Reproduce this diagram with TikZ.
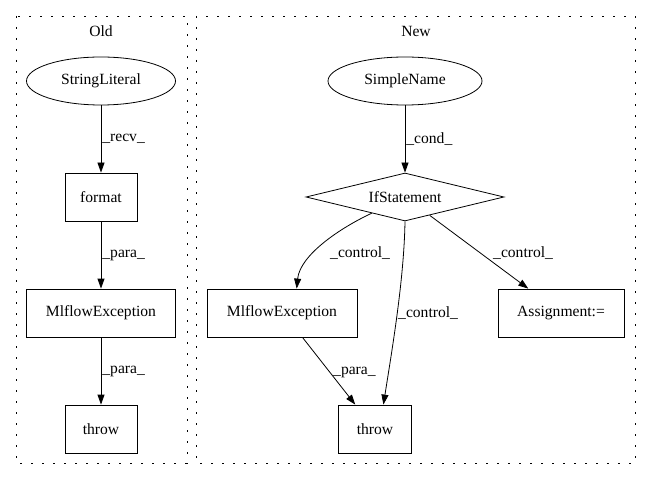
\documentclass[tikz,border=0pt]{standalone}
\usepackage{fontspec}
\setmainfont{Liberation Serif}
\usetikzlibrary{shapes.geometric,arrows.meta}

\tikzset{
  cluster/.style={draw, dash pattern=on 2bp off 9bp, line width=0.8bp},
  box/.style={draw, rectangle, inner sep=0pt, minimum height=48bp, line width=0.8bp},
  oval/.style={draw, ellipse, inner sep=0pt, minimum height=48bp, line width=0.8bp},
  cond/.style={draw, diamond, aspect=4.125, inner sep=0pt, minimum width=198bp, minimum height=48bp, line width=0.8bp},
  flow/.style={-{Triangle[length=10bp,width=7bp]}, line width=0.8bp},
  lbl/.style={inner sep=1bp, anchor=west},
}

\begin{document}
\begin{tikzpicture}[x=1bp, y=-1bp, font=\fontsize{15.6bp}{18bp}\selectfont]
            \useasboundingbox (0,0) rectangle (651,480);

            % Old
            \draw[cluster] (16,16) rectangle (187,463);
            \node (old) at (101,31) {Old};
            \node[oval, minimum width=149bp] (lit) at (101,81) {StringLiteral};
            \node[box, minimum width=72bp] (fmt) at (101,197) {format};
            \node[box, minimum width=149bp] (exc) at (101,313) {MlflowException};
            \node[box, minimum width=72bp] (thr) at (101,429) {throw};
            \draw[flow] (lit) -- node[lbl] {\_recv\_} (fmt);
            \draw[flow] (fmt) -- node[lbl] {\_para\_} (exc);
            \draw[flow] (exc) -- node[lbl] {\_para\_} (thr);

            % New
            \draw[cluster] (196,16) rectangle (635,463);
            \node (new) at (416,31) {New};
            \node[oval, minimum width=154bp] (sn) at (405,81) {SimpleName};
            \node[cond] (ifs) at (405,197) {IfStatement};
            \node[box, minimum width=150bp] (exc2) at (282,313) {MlflowException};
            \node[box, minimum width=126bp] (asg) at (561,313) {Assignment:=};
            \node[box, minimum width=73bp] (thr2) at (375,429) {throw};
            \draw[flow] (sn) -- node[lbl] {\_cond\_} (ifs);
            \draw[flow] (ifs.206.6) .. controls (340,228) and (300,255) .. (exc2.59.7);
            \draw[flow] (ifs.south) .. controls (404,280) and (392,350) .. (thr2.71.6);
            \draw[flow] (ifs) -- (asg);
            \draw[flow] (exc2.-50.2) -- (thr2.129.8);
            \node[lbl] (c1) at (329,253) {\_control\_};
            \node[lbl] (c2) at (397,313) {\_control\_};
            \node[lbl] (c3) at (492,253) {\_control\_};
            \node[lbl] (p2) at (332,372) {\_para\_};

        \end{tikzpicture}
\end{document}
